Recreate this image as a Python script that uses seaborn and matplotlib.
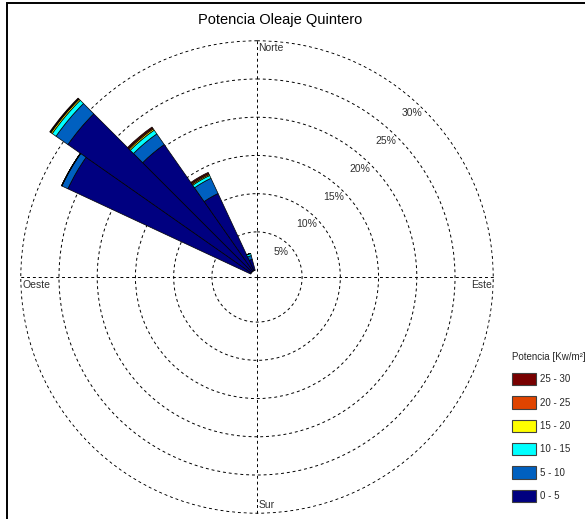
import numpy as np
import matplotlib
matplotlib.use("Agg")
import matplotlib.pyplot as plt
import matplotlib.patches as mpatches
import seaborn as sns

# direction of each sector (deg, clockwise from north) and % of time per power bin
directions = [300, 310, 320, 330, 340]
bins = ['0 - 5', '5 - 10', '10 - 15', '15 - 20', '20 - 25', '25 - 30']
p_0_5 = [26.4, 29.3, 20.25, 11.15, 1.5]
p_5_10 = [0.85, 1.9, 1.7, 2.2, 0.5]
p_10_15 = [0.05, 0.6, 0.6, 0.4, 0.3]
p_15_20 = [0.0, 0.2, 0.2, 0.15, 0.0]
p_20_25 = [0.0, 0.1, 0.15, 0.15, 0.0]
p_25_30 = [0.0, 0.1, 0.15, 0.15, 0.0]
rings = [5, 10, 15, 20, 25, 30]

sns.set_theme(style='white')
plt.rcParams['font.family'] = ['Liberation Sans', 'DejaVu Sans']
colors = sns.color_palette(['#000080', '#0060C0', '#00FFFF', '#FFFF00', '#E04400', '#780000'])

fig = plt.figure(figsize=(5.85, 5.19), dpi=100)
ax = fig.add_axes([20/585, 5/519, 474/585, 474/519], projection='polar')
ax.set_theta_zero_location('N')
ax.set_theta_direction(-1)
ax.set_ylim(-0.9, 30.1)
ax.set_axisbelow(True)

# stacked sectors
series = [p_0_5, p_5_10, p_10_15, p_15_20, p_20_25, p_25_30]
theta = np.deg2rad(directions)
bottom = np.zeros(len(directions))
for vals, col in zip(series, colors):
    vals = np.array(vals)
    ax.bar(theta, vals, width=np.deg2rad(10), bottom=bottom, color=col,
           edgecolor='black', linewidth=0.5, clip_on=False, zorder=3)
    bottom += vals

# grid
ax.set_yticks(rings)
ax.set_yticklabels([])
ax.set_xticks(np.deg2rad([0, 90, 180, 270]))
ax.set_xticklabels([])
ax.grid(True, color='black', linestyle=(0, (3, 3)), linewidth=0.7)
ax.spines['polar'].set_visible(False)

for r in rings:
    ax.text(np.deg2rad(43.5), r - 1.4, f'{r}%', ha='center', va='center',
            fontsize=7.5, color='#303030')

ax.annotate('Norte', (0, 30), xytext=(1, -5), textcoords='offset points',
            ha='left', va='center', fontsize=7.5, color='#303030', annotation_clip=False)
ax.annotate('Este', (np.pi / 2, 30), xytext=(-1, -2), textcoords='offset points',
            ha='right', va='top', fontsize=7.5, color='#303030', annotation_clip=False)
ax.annotate('Sur', (np.pi, 30), xytext=(1, 2), textcoords='offset points',
            ha='left', va='bottom', fontsize=7.5, color='#303030', annotation_clip=False)
ax.annotate('Oeste', (3 * np.pi / 2, 30), xytext=(1, -2), textcoords='offset points',
            ha='left', va='top', fontsize=7.5, color='#303030', annotation_clip=False)

fig.text(280/585, 1 - 20/519, 'Potencia Oleaje Quintero', ha='center', va='center',
         fontsize=10.5, color='black')

# legend, highest bin on top
handles = [mpatches.Patch(facecolor=c, edgecolor='#404040', linewidth=0.8, label=b)
           for b, c in zip(bins, colors)][::-1]
leg = fig.legend(handles=handles, loc='upper left', bbox_to_anchor=(508/585, 1 - 348/519),
                 frameon=False, fontsize=7, title='Potencia [Kw/m\u00b2]', title_fontsize=7,
                 handlelength=2.5, handleheight=1.6, labelspacing=1.12, handletextpad=0.35,
                 alignment='left', borderaxespad=0)

# outer frame
fig.patches.append(mpatches.Rectangle((7/585, -0.02), 1.1, 1 - 3/519 + 0.02,
                                      transform=fig.transFigure, fill=False,
                                      edgecolor='black', linewidth=1.4))

fig.savefig('out.png', dpi=100)
